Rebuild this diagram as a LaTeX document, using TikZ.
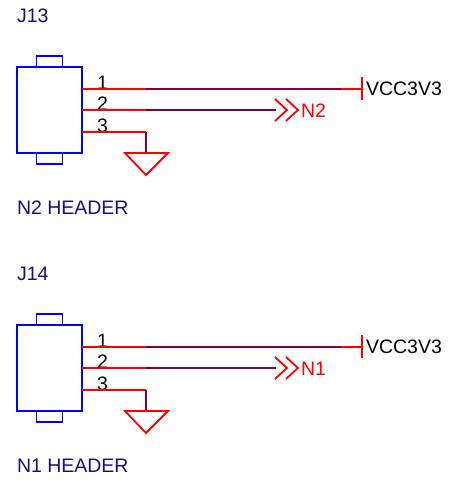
\documentclass[tikz,border=0pt]{standalone}
\usepackage{fontspec}
\setmainfont{Liberation Sans}
\usepackage{xcolor}
\usetikzlibrary{positioning}
\definecolor{wirepurple}{HTML}{800040}
\definecolor{refnavy}{HTML}{101080}
\tikzset{x=1pt, y=-1pt,
         every node/.style={font=\fontsize{19.5}{22}\selectfont, inner sep=0pt, outer sep=0pt},
         header/.style={draw=blue, line width=1.8pt, minimum width=65pt, minimum height=86pt},
         tab/.style={draw=blue, line width=1.8pt, minimum width=26pt, minimum height=11pt},
         pin/.style={draw=red, line width=1.8pt},
         wire/.style={draw=wirepurple, line width=1.8pt},
         ref/.style={anchor=base west, text=refnavy},
         num/.style={anchor=base west, text=black},
         }

\begin{document}
\begin{tikzpicture}
    \useasboundingbox (0,0) rectangle (456,483);

    % first header
    \node[ref] (j13name) at (17,22) {J13};
    \node[header] (j13) at (49.5,110) {};
    \node[tab, above=0pt of j13] (j13top) {};
    \node[tab, below=0pt of j13] (j13bot) {};
    \node[ref] (j13val) at (17,214) {N2 HEADER};
    \node[num] (j13n1) at (97,89) {1};
    \node[num] (j13n2) at (97,110.5) {2};
    \node[num] (j13n3) at (97,132) {3};
    \node[num] (vcc13) at (366,95) {VCC3V3};
    \node[anchor=base west, text=red] (n2) at (301,117) {N2};

    \coordinate (a1) at (82,89);
    \coordinate (a2) at (82,110);
    \coordinate (a3) at (82,132);
    \coordinate (b1) at (146,89);
    \coordinate (b2) at (146,110);
    \coordinate (b3) at (146,132);
    \coordinate (c1) at (341,89);
    \coordinate (c2) at (276,110);
    \coordinate (d1) at (362,89);
    \coordinate (g1) at (146,153);

    \draw[pin] (a1) -- (b1);
    \draw[pin] (a2) -- (b2);
    \draw[pin] (a3) -- (b3);
    \draw[wire] (b1) -- (c1);
    \draw[wire] (b2) -- (c2);
    \draw[wire] (b3) -- (g1);
    \draw[pin] (c1) -- (d1);
    \draw[pin] (362,77) -- (362,100);
    \draw[pin] (125,153) -- (168,153) -- (146,175) -- cycle;
    \draw[pin] (275,99) -- (287,110) -- (275,121);
    \draw[pin] (286,99) -- (298,110) -- (286,121);

    % second header
    \node[ref] (j14name) at (17,280) {J14};
    \node[header] (j14) at (49.5,368) {};
    \node[tab, above=0pt of j14] (j14top) {};
    \node[tab, below=0pt of j14] (j14bot) {};
    \node[ref] (j14val) at (17,472) {N1 HEADER};
    \node[num] (j14n1) at (97,347) {1};
    \node[num] (j14n2) at (97,368.5) {2};
    \node[num] (j14n3) at (97,390) {3};
    \node[num] (vcc14) at (366,353) {VCC3V3};
    \node[anchor=base west, text=red] (n1) at (301,375) {N1};

    \coordinate (e1) at (82,347);
    \coordinate (e2) at (82,368);
    \coordinate (e3) at (82,390);
    \coordinate (f1) at (146,347);
    \coordinate (f2) at (146,368);
    \coordinate (f3) at (146,390);
    \coordinate (h1) at (341,347);
    \coordinate (h2) at (276,368);
    \coordinate (i1) at (362,347);
    \coordinate (g2) at (146,411);

    \draw[pin] (e1) -- (f1);
    \draw[pin] (e2) -- (f2);
    \draw[pin] (e3) -- (f3);
    \draw[wire] (f1) -- (h1);
    \draw[wire] (f2) -- (h2);
    \draw[wire] (f3) -- (g2);
    \draw[pin] (h1) -- (i1);
    \draw[pin] (362,335) -- (362,358);
    \draw[pin] (125,411) -- (168,411) -- (146,433) -- cycle;
    \draw[pin] (275,357) -- (287,368) -- (275,379);
    \draw[pin] (286,357) -- (298,368) -- (286,379);
\end{tikzpicture}
\end{document}
